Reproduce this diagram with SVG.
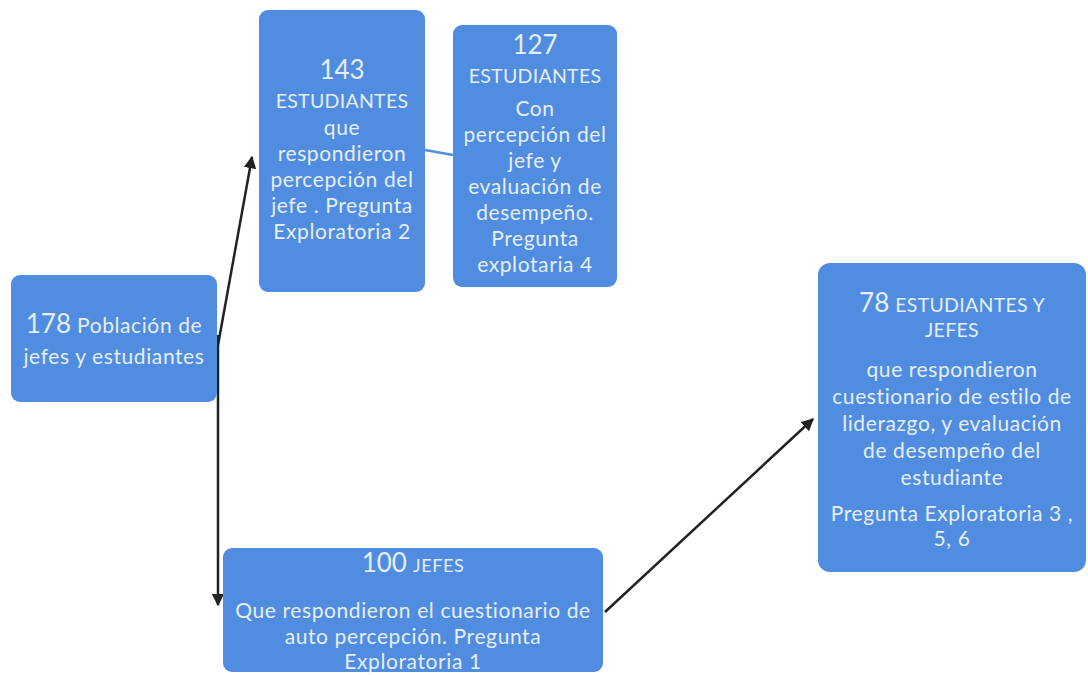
<svg xmlns="http://www.w3.org/2000/svg" width="1088" height="675" viewBox="0 0 1088 675">
<defs>
<style>
.box{fill:#508de0;}
.t{font-family:Lato,"Open Sans","Liberation Sans",sans-serif;fill:#e6eefa;font-size:21px;letter-spacing:0.6px;text-anchor:middle;}
.big{font-size:26px;letter-spacing:0;}
.cap{font-size:19.5px;letter-spacing:0.3px;}
.sm{font-size:18px;}
.conn{stroke:#222;stroke-width:2.5;fill:none;}
</style>
<marker id="ah" viewBox="0 0 10 10" refX="9" refY="5" markerWidth="5" markerHeight="5" orient="auto" markerUnits="strokeWidth">
<path d="M0,0 L10,5 L0,10 z" fill="#222"/>
</marker>
</defs>
<rect width="1088" height="675" fill="#ffffff"/>
<g id="connectors">
<path class="conn" d="M218,345 L252,157" marker-end="url(#ah)"/>
<path class="conn" d="M218,335 L218,605" marker-end="url(#ah)"/>
<path class="conn" d="M605,612 L813,419" marker-end="url(#ah)"/>
<path d="M425,150 L453,155" stroke="#508de0" stroke-width="2.5" fill="none"/>
</g>
<g id="n178">
<rect class="box" x="11" y="275" width="206" height="127" rx="9"/>
<text class="t" x="114" y="333"><tspan class="big">178</tspan> Población de</text>
<text class="t" x="114" y="364">jefes y estudiantes</text>
</g>
<g id="n143">
<rect class="box" x="259" y="10" width="166" height="282" rx="9"/>
<text class="t big" x="342" y="79">143</text>
<text class="t cap" x="342" y="108">ESTUDIANTES</text>
<text class="t" x="342" y="135">que</text>
<text class="t" x="342" y="161">respondieron</text>
<text class="t" x="342" y="187">percepción del</text>
<text class="t" x="342" y="213">jefe . Pregunta</text>
<text class="t" x="342" y="239">Exploratoria 2</text>
</g>
<g id="n127">
<rect class="box" x="453" y="25" width="164" height="262" rx="9"/>
<text class="t big" x="535" y="54">127</text>
<text class="t cap" x="535" y="83">ESTUDIANTES</text>
<text class="t" x="535" y="116">Con</text>
<text class="t" x="535" y="142">percepción del</text>
<text class="t" x="535" y="168">jefe y</text>
<text class="t" x="535" y="194">evaluación de</text>
<text class="t" x="535" y="220">desempeño.</text>
<text class="t" x="535" y="246">Pregunta</text>
<text class="t" x="535" y="272">explotaria 4</text>
</g>
<g id="n100">
<rect class="box" x="223" y="548" width="380" height="124" rx="9"/>
<text class="t" x="413" y="572"><tspan class="big">100</tspan> <tspan class="sm">JEFES</tspan></text>
<text class="t" x="413" y="618">Que respondieron el cuestionario de</text>
<text class="t" x="413" y="644">auto percepción. Pregunta</text>
<text class="t" x="413" y="669">Exploratoria 1</text>
</g>
<g id="n78">
<rect class="box" x="818" y="263" width="268" height="309" rx="12"/>
<text class="t" x="952" y="312"><tspan class="big">78</tspan> <tspan class="cap">ESTUDIANTES Y</tspan></text>
<text class="t cap" x="952" y="337">JEFES</text>
<text class="t" x="952" y="377">que respondieron</text>
<text class="t" x="952" y="404">cuestionario de estilo de</text>
<text class="t" x="952" y="431">liderazgo, y evaluación</text>
<text class="t" x="952" y="458">de desempeño del</text>
<text class="t" x="952" y="485">estudiante</text>
<text class="t" x="952" y="521">Pregunta Exploratoria 3 ,</text>
<text class="t" x="952" y="546">5, 6</text>
</g>
</svg>
